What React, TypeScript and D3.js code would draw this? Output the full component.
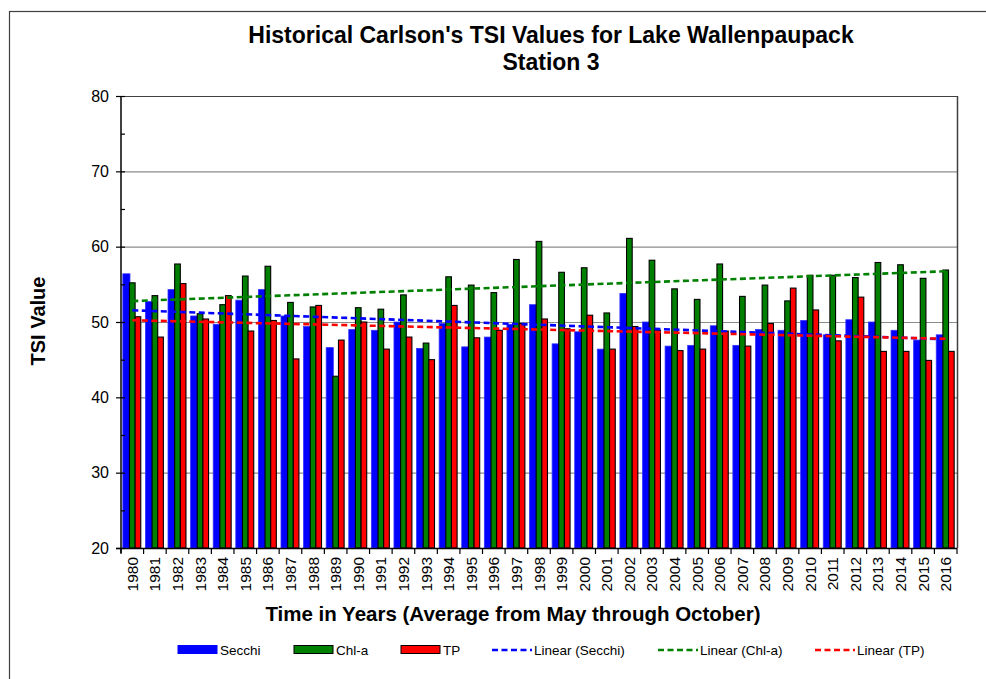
import { useEffect, useRef } from 'react';
import * as d3 from 'd3';

// TSI values, 1980-2016
const years = d3.range(1980, 2017).map(String);
const secchi = [56.4, 52.7, 54.3, 50.8, 49.7, 52.9, 54.3, 50.8, 49.4, 46.6, 49.0, 48.9, 50.0, 46.5, 49.8, 46.7, 48.0, 49.7, 52.3,
  47.1, 48.7, 46.4, 53.8, 50.0, 46.8, 46.9, 49.5, 46.9, 49.0, 48.9, 50.2, 48.3, 50.3, 50.0, 48.9, 47.6, 48.3];
const chla = [55.2, 53.5, 57.7, 51.1, 52.3, 56.1, 57.4, 52.6, 52.0, 42.8, 51.9, 51.7, 53.6, 47.2, 56.0, 54.9, 53.9, 58.3, 60.7,
  56.6, 57.2, 51.2, 61.1, 58.2, 54.4, 53.0, 57.7, 53.4, 54.9, 52.8, 56.2, 56.2, 55.9, 57.9, 57.6, 55.8, 56.9];
const tp = [50.7, 48.0, 55.1, 50.4, 53.5, 48.8, 50.2, 45.1, 52.2, 47.6, 50.0, 46.4, 48.0, 45.0, 52.2, 47.9, 48.9, 49.8, 50.4,
  49.1, 50.9, 46.4, 49.4, 48.9, 46.2, 46.4, 48.8, 46.8, 49.8, 54.5, 51.6, 47.5, 53.3, 46.1, 46.1, 44.9, 46.1];
const yTicks = [20, 30, 40, 50, 60, 70, 80];

const seriesNames = ['Secchi', 'Chl-a', 'TP'];
const colors = ['#0000ff', '#008000', '#ff0000'];

const App = () => {
  const ref = useRef(null);

  useEffect(() => {
    const svg = d3.select(ref.current);
    svg.selectAll('*').remove();

    const left = 121, right = 957, top = 96, bottom = 548;
    const font = 'Arial, "Liberation Sans", sans-serif';

    // outer frame
    svg.append('rect').attr('x', 9.5).attr('y', 11.5).attr('width', 1000).attr('height', 700)
      .attr('fill', 'white').attr('stroke', '#404040').attr('stroke-width', 1.2);

    const y = d3.scaleLinear().domain([20, 80]).range([bottom, top]);
    const x0 = d3.scaleBand().domain(years).range([left, right]).paddingInner(0.25).paddingOuter(0.125);
    const x1 = d3.scaleBand().domain(seriesNames).range([0, x0.bandwidth()]);
    const step = x0.step();
    const bandStart = (yr) => x0(yr) - x0.paddingInner() * step / 2;
    const center = (yr) => bandStart(yr) + step / 2;

    // grid
    svg.append('g').selectAll('line').data(yTicks.filter(d => d > 20 && d < 80)).join('line')
      .attr('x1', left).attr('x2', right).attr('y1', d => y(d) + 0.5).attr('y2', d => y(d) + 0.5)
      .attr('stroke', '#8c8c8c').attr('stroke-width', 1.2);

    // plot frame top / right
    svg.append('line').attr('x1', left).attr('x2', right).attr('y1', y(80) + 0.5).attr('y2', y(80) + 0.5)
      .attr('stroke', '#404040').attr('stroke-width', 1.2);
    svg.append('line').attr('x1', right + 0.5).attr('x2', right + 0.5).attr('y1', top).attr('y2', bottom)
      .attr('stroke', '#404040').attr('stroke-width', 1.5);

    // bars
    const all = [secchi, chla, tp];
    all.forEach((vals, si) => {
      svg.append('g').selectAll('rect').data(vals).join('rect')
        .attr('x', (d, i) => x0(years[i]) + x1(seriesNames[si]) - (si === 0 ? 1 : 0))
        .attr('y', d => y(d))
        .attr('width', x1.bandwidth() + (si === 0 ? 1.5 : 0))
        .attr('height', d => y(20) - y(d))
        .attr('fill', colors[si])
        .attr('stroke', si === 0 ? '#3333ff' : '#000')
        .attr('stroke-width', si === 0 ? 0.8 : 1.1);
    });

    // linear trend lines
    const idx = years.map((_, i) => i);
    all.forEach((vals, si) => {
      const mx = d3.mean(idx), my = d3.mean(vals);
      const slope = d3.sum(idx, i => (i - mx) * (vals[i] - my)) / d3.sum(idx, i => (i - mx) ** 2);
      const icpt = my - slope * mx;
      const line = d3.line().x(i => center(years[i])).y(i => y(icpt + slope * i));
      svg.append('path').datum([0, years.length - 1]).attr('d', line)
        .attr('fill', 'none').attr('stroke', colors[si]).attr('stroke-width', 2.6)
        .attr('stroke-dasharray', '6,3.5');
    });

    // y axis
    const yAxis = svg.append('g').attr('transform', `translate(${left},0)`);
    yAxis.append('line').attr('y1', top).attr('y2', bottom + 5).attr('stroke', '#000').attr('stroke-width', 1.5);
    yAxis.selectAll('.maj').data(yTicks).join('line').attr('class', 'maj')
      .attr('x1', -5).attr('x2', 4).attr('y1', d => y(d) + 0.5).attr('y2', d => y(d) + 0.5)
      .attr('stroke', '#000').attr('stroke-width', 1.2);
    yAxis.selectAll('.min').data(d3.range(25, 80, 10)).join('line').attr('class', 'min')
      .attr('x1', 0).attr('x2', 4).attr('y1', d => y(d) + 0.5).attr('y2', d => y(d) + 0.5)
      .attr('stroke', '#000').attr('stroke-width', 1.2);
    yAxis.selectAll('text').data(yTicks).join('text')
      .attr('x', -12).attr('y', d => y(d)).attr('dy', '0.35em')
      .attr('text-anchor', 'end').attr('font-family', font).attr('font-size', 16).text(d => d);

    // x axis
    const xAxis = svg.append('g');
    xAxis.append('line').attr('x1', left - 5).attr('x2', right).attr('y1', bottom + 0.5).attr('y2', bottom + 0.5)
      .attr('stroke', '#000').attr('stroke-width', 1.5);
    xAxis.selectAll('.tk').data(years.concat(['end'])).join('line').attr('class', 'tk')
      .attr('x1', (d, i) => left + i * step).attr('x2', (d, i) => left + i * step)
      .attr('y1', bottom).attr('y2', bottom + 6).attr('stroke', '#000').attr('stroke-width', 1.2);
    xAxis.selectAll('text').data(years).join('text')
      .attr('transform', d => `translate(${center(d) + 5.5},${bottom + 9}) rotate(-90)`)
      .attr('text-anchor', 'end').attr('font-family', font).attr('font-size', 15.5).text(d => d);

    // titles
    svg.append('text').attr('x', 551).attr('y', 43).attr('text-anchor', 'middle')
      .attr('font-family', font).attr('font-weight', 'bold').attr('font-size', 23)
      .text("Historical Carlson's TSI Values for Lake Wallenpaupack");
    svg.append('text').attr('x', 551).attr('y', 70).attr('text-anchor', 'middle')
      .attr('font-family', font).attr('font-weight', 'bold').attr('font-size', 23).text('Station 3');
    svg.append('text').attr('transform', 'translate(45,321) rotate(-90)').attr('text-anchor', 'middle')
      .attr('font-family', font).attr('font-weight', 'bold').attr('font-size', 20).text('TSI Value');
    svg.append('text').attr('x', 513).attr('y', 621).attr('text-anchor', 'middle')
      .attr('font-family', font).attr('font-weight', 'bold').attr('font-size', 20.5)
      .text('Time in Years (Average from May through October)');

    // legend
    const legendX = [178, 294, 401, 492, 658, 815];
    const legendLabels = ['Secchi', 'Chl-a', 'TP', 'Linear (Secchi)', 'Linear (Chl-a)', 'Linear (TP)'];
    const lg = svg.append('g');
    legendLabels.forEach((lab, i) => {
      const c = colors[i % 3];
      if (i < 3) {
        lg.append('rect').attr('x', legendX[i]).attr('y', 645.5).attr('width', 39).attr('height', 8)
          .attr('fill', c).attr('stroke', i === 0 ? c : '#000').attr('stroke-width', 1);
      } else {
        lg.append('line').attr('x1', legendX[i]).attr('x2', legendX[i] + 40).attr('y1', 650).attr('y2', 650)
          .attr('stroke', c).attr('stroke-width', 2.6).attr('stroke-dasharray', '6,3.5');
      }
      lg.append('text').attr('x', legendX[i] + 42).attr('y', 650).attr('dy', '0.35em')
        .attr('font-family', font).attr('font-size', 13.5).text(lab);
    });
  }, []);

  return <svg ref={ref} width={986} height={679} style={{ position: 'absolute', left: 0, top: 0, background: 'white' }} />;
};

export default App;
